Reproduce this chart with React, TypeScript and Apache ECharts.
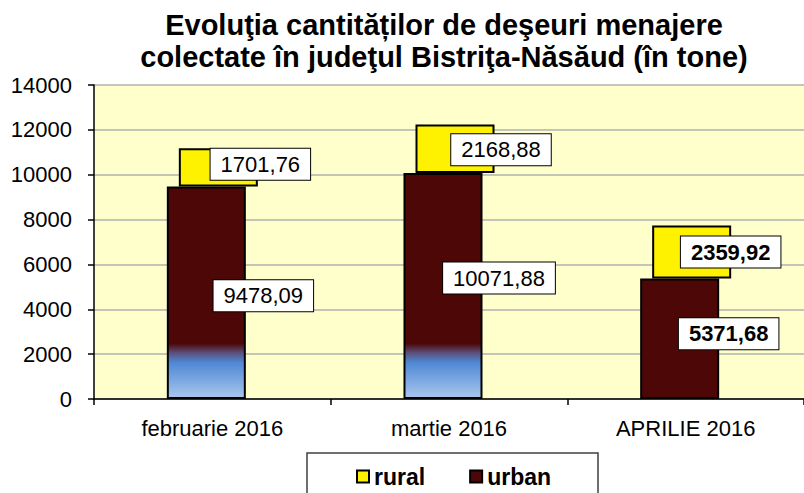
import React, { useEffect, useRef } from "react";
import * as echarts from "echarts";

const categories = ["februarie 2016", "martie 2016", "APRILIE 2016"];
const urban = [9478.09, 10071.88, 5371.68];
const rural = [1701.76, 2168.88, 2359.92];
const urbanLabels = ["9478,09", "10071,88", "5371,68"];
const ruralLabels = ["1701,76", "2168,88", "2359,92"];
const boldLabel = [false, false, true];
const gradientBars = [true, true, false];
const yTicks = { min: 0, max: 14000, interval: 2000 };

// label offsets (layout only)
const urbanLabelOffsets = [[57, 3], [56, -8], [49, -5]];
const ruralLabelOffsets = [[42, -3], [46, 1], [39, 0]];

const DARK = "#4d0707";
const YELLOW = "#fff200";

function urbanFill(v: number, grad: boolean) {
  if (!grad) return DARK;
  const o = (x: number) => Math.max(0, Math.min(1, 1 - x / v));
  return new echarts.graphic.LinearGradient(0, 0, 0, 1, [
    { offset: 0, color: DARK },
    { offset: o(2450), color: DARK },
    { offset: o(2050), color: "#5a4d78" },
    { offset: o(1600), color: "#4f88d4" },
    { offset: 1, color: "#a9c7ee" },
  ]);
}

export default function App() {
  const ref = useRef<HTMLDivElement>(null);
  useEffect(() => {
    document.body.style.margin = "0";
    const chart = echarts.init(ref.current!, null, { renderer: "svg" });
    const font = "'Liberation Sans', Arial, sans-serif";
    const labelBase = {
      show: true,
      position: "inside",
      color: "#000",
      fontSize: 22,
      fontFamily: font,
      backgroundColor: "#fff",
      borderColor: "#000",
      borderWidth: 1,
      padding: [5, 10, 4, 10],
    };
    chart.setOption({
      animation: false,
      textStyle: { fontFamily: font },
      title: {
        text: "Evoluţia cantităților de deşeuri menajere\ncolectate în judeţul Bistriţa-Năsăud (în tone)",
        left: 439,
        top: 4,
        textAlign: "center",
        textStyle: {
          fontSize: 29,
          fontWeight: "bold",
          color: "#000",
          lineHeight: 32,
          fontFamily: font,
        },
      },
      graphic: [
        {
          type: "rect",
          shape: { x: 307, y: 453, width: 291, height: 60 },
          style: { fill: "#fff", stroke: "#404040", lineWidth: 1.5 },
          z: 0,
        },
      ],
      legend: {
        data: ["rural", "urban"],
        left: 356,
        top: 465,
        padding: 0,
        icon: "rect",
        itemWidth: 12,
        itemHeight: 12,
        itemGap: 44,
        itemStyle: { borderColor: "#000", borderWidth: 2 },
        textStyle: { fontSize: 23, fontWeight: "bold", color: "#000", fontFamily: font },
        z: 5,
      },
      grid: {
        left: 94,
        top: 85,
        width: 720,
        height: 314,
        show: true,
        backgroundColor: "#ffffcc",
        borderWidth: 0,
      },
      xAxis: {
        type: "category",
        data: categories,
        axisLine: { lineStyle: { color: "#000", width: 1.5 } },
        axisTick: { show: true, length: 6, lineStyle: { color: "#000", width: 1.5 } },
        axisLabel: { fontSize: 22, color: "#000", margin: 18, fontFamily: font },
      },
      yAxis: {
        type: "value",
        min: yTicks.min,
        max: yTicks.max,
        interval: yTicks.interval,
        axisLine: { show: true, lineStyle: { color: "#000", width: 1.5 } },
        axisTick: { show: true, length: 6, lineStyle: { color: "#000", width: 1.5 } },
        axisLabel: {
          fontSize: 22,
          color: "#000",
          margin: 22,
          fontFamily: font,
          formatter: (v: number) => String(v),
        },
        splitLine: { lineStyle: { color: "#b0b0b0", width: 1.5 } },
      },
      series: [
        {
          name: "urban",
          type: "bar",
          stack: "u",
          barWidth: 79,
          barGap: "-84.8%",
          itemStyle: { color: DARK, borderColor: "#000", borderWidth: 2 },
          data: urban.map((v, i) => ({
            value: v,
            itemStyle: { color: urbanFill(v, gradientBars[i]) },
            label: {
              ...labelBase,
              formatter: urbanLabels[i],
              offset: urbanLabelOffsets[i],
              fontWeight: boldLabel[i] ? "bold" : "normal",
            },
          })),
        },
        {
          name: "base",
          type: "bar",
          stack: "r",
          barWidth: 79,
          barGap: "-84.8%",
          silent: true,
          itemStyle: { color: "rgba(0,0,0,0)", borderWidth: 0 },
          data: urban.slice(),
        },
        {
          name: "rural",
          type: "bar",
          stack: "r",
          barWidth: 79,
          barGap: "-84.8%",
          itemStyle: { color: YELLOW, borderColor: "#000", borderWidth: 2 },
          data: rural.map((v, i) => ({
            value: v,
            label: {
              ...labelBase,
              formatter: ruralLabels[i],
              offset: ruralLabelOffsets[i],
              fontWeight: boldLabel[i] ? "bold" : "normal",
            },
          })),
        },
      ],
    });
    return () => chart.dispose();
  }, []);
  return <div ref={ref} style={{ width: 804, height: 493 }} />;
}
